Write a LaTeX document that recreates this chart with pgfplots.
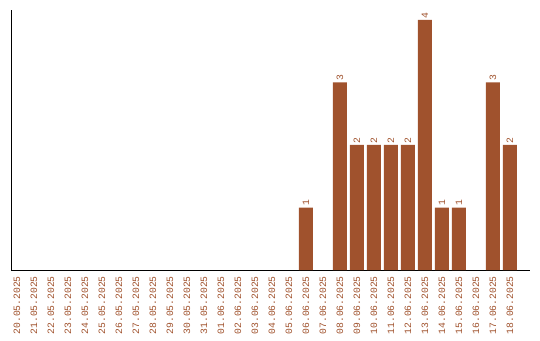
\documentclass[border=0pt]{standalone}
\usepackage{fontspec}
\setmainfont{Liberation Mono}
\usepackage{pgfplots}
\pgfplotsset{compat=1.18}
\definecolor{barc}{HTML}{A0522D}
\begin{document}
\begin{tikzpicture}
\path[use as bounding box] (-11pt,-70pt) rectangle (529pt,270pt);
\begin{axis}[
  at={(0pt,0pt)}, anchor=south west,
  scale only axis, width=519pt, height=260pt,
  xmin=-0.35, xmax=30.18, ymin=0, ymax=4.16,
  axis x line=bottom, axis y line=left,
  axis line style={-, line width=0.8pt, black},
  ytick=\empty,
  xtick={0,...,29},
  major tick length=0pt,
  xticklabels={20.05.2025,21.05.2025,22.05.2025,23.05.2025,24.05.2025,25.05.2025,26.05.2025,27.05.2025,28.05.2025,29.05.2025,30.05.2025,31.05.2025,01.06.2025,02.06.2025,03.06.2025,04.06.2025,05.06.2025,06.06.2025,07.06.2025,08.06.2025,09.06.2025,10.06.2025,11.06.2025,12.06.2025,13.06.2025,14.06.2025,15.06.2025,16.06.2025,17.06.2025,18.06.2025},
  xticklabel style={rotate=90, anchor=east, font=\fontsize{9.7}{11}\selectfont, text=barc, inner sep=0pt, xshift=-6pt},
  /pgf/number format/assume math mode=true,
  nodes near coords,
  nodes near coords style={rotate=90, anchor=west, font=\fontsize{9.7}{11}\selectfont, text=barc, inner sep=1.5pt},
  clip=false,
]
\addplot[ybar, bar width=14pt, fill=barc, draw=none] coordinates {
(17,1) (19,3) (20,2) (21,2) (22,2) (23,2) (24,4) (25,1) (26,1) (28,3) (29,2)
};
\end{axis}
\end{tikzpicture}
\end{document}
